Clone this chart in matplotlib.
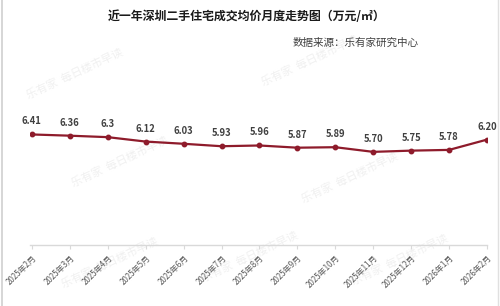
import matplotlib
matplotlib.use("Agg")
import matplotlib.pyplot as plt
from matplotlib.lines import Line2D

plt.rcParams["font.family"] = ["Noto Sans CJK SC", "DejaVu Sans"]

months = ["2025年2月", "2025年3月", "2025年4月", "2025年5月", "2025年6月",
          "2025年7月", "2025年8月", "2025年9月", "2025年10月", "2025年11月",
          "2025年12月", "2026年1月", "2026年2月"]
prices = [6.41, 6.36, 6.30, 6.12, 6.03, 5.93, 5.96, 5.87, 5.89, 5.70, 5.75, 5.78, 6.20]
price_labels = ["6.41", "6.36", "6.3", "6.12", "6.03", "5.93", "5.96", "5.87",
                "5.89", "5.70", "5.75", "5.78", "6.20"]

title = "近一年深圳二手住宅成交均价月度走势图（万元/㎡）"
source = "数据来源：乐有家研究中心"

W, H = 500, 306
fig = plt.figure(figsize=(W / 100, H / 100), dpi=100)

# axes placed in pixel terms: left 30, right 487, bottom line at y=245
left, right, bottom, top = 30, 487, 245, 120
ax = fig.add_axes([left / W, 1 - bottom / H, (right - left) / W, (bottom - top) / H])
ax.set_zorder(2)

# faint watermarks, kept under the chart
wm_color = "#f0f0f0"
for x, y in [(0.15, 0.76), (0.62, 0.80), (0.24, 0.47), (0.70, 0.42),
             (0.22, 0.14), (0.80, 0.15), (0.50, 0.16)]:
    fig.text(x, y, "乐有家  每日楼市早读", fontsize=8, color=wm_color,
             rotation=25, ha="center", va="center", zorder=0)

x = list(range(len(months)))
ax.plot(x, prices, color="#8E1B2B", lw=1.6, marker="o", ms=3.2, zorder=3)
for xi, yi, lab in zip(x, prices, price_labels):
    ax.annotate(lab, (xi, yi), xytext=(0, 9.4), textcoords="offset points",
                ha="center", va="center", fontsize=6.8, fontweight="bold",
                color="#404040")

ax.set_xlim(-0.05, 12.0)
ax.set_ylim(1.9, 7.0)
ax.set_xticks(x)
ax.set_xticklabels(months, rotation=45, ha="right", rotation_mode="anchor",
                   fontsize=5.8, color="#595959")
ax.tick_params(axis="x", length=3, color="#d9d9d9", pad=3)
ax.set_yticks([])
for side in ["left", "right", "top"]:
    ax.spines[side].set_visible(False)
ax.spines["bottom"].set_color("#d9d9d9")
ax.spines["bottom"].set_linewidth(1.0)
ax.patch.set_alpha(0)

fig.text(247 / W, 1 - 17 / H, title, ha="center", va="center",
         fontsize=8.6, fontweight="bold", color="#1a1a1a")
fig.text(293 / W, 1 - 43 / H, source, ha="left", va="center",
         fontsize=7.6, color="#404040")

# thin frame lines at the image edges
fig.add_artist(Line2D([0.003, 0.003], [0, 1], transform=fig.transFigure,
                      color="#d0d0d0", lw=1.2))
fig.add_artist(Line2D([0.995, 0.995], [0, 1], transform=fig.transFigure,
                      color="#e0e0e0", lw=1.0))

fig.savefig("out.png", dpi=100)
